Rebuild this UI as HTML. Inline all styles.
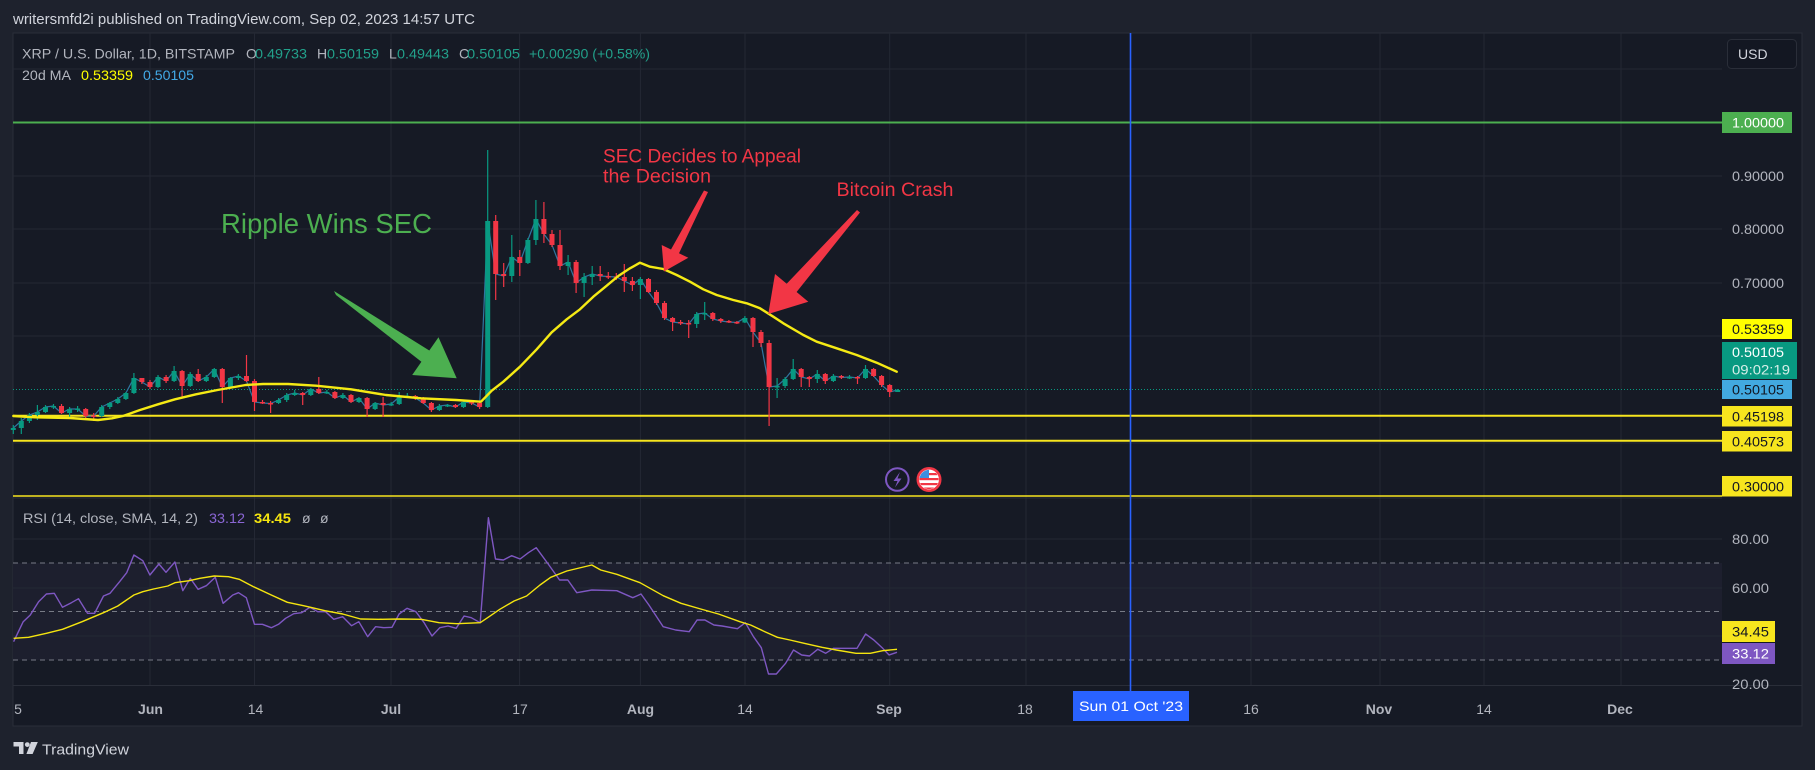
<!DOCTYPE html>
<html><head><meta charset="utf-8"><style>html,body{margin:0;padding:0;background:#1e222d;}svg{display:block;}</style></head>
<body>
<svg width="1815" height="770" viewBox="0 0 1815 770" xmlns="http://www.w3.org/2000/svg" font-family="'Liberation Sans', sans-serif">
<rect width="1815" height="770" fill="#1e222d"/>
<rect x="13" y="33" width="1789" height="693" fill="#161a25" stroke="#2a2e39" stroke-width="1"/>
<!-- RSI band -->
<rect x="13" y="563" width="1709" height="97" fill="#1d1f2e"/>
<!-- grid -->
<g stroke="#242834" stroke-width="1">
<path d="M13 69H1722M13 122.5H1722M13 176H1722M13 229H1722M13 283H1722M13 336H1722M13 443H1722M13 539H1722M13 588H1722M13 636H1722"/>
<path d="M150 33V685M254.5 33V685M391 33V685M519.6 33V685M640.4 33V685M745 33V685M889.7 33V685M1026 33V685M1251 33V685M1380 33V685M1484 33V685M1621 33V685"/>
</g>
<path d="M13 498H1722" stroke="#2a2e39" stroke-width="1"/>
<path d="M13 685.5H1802" stroke="#2a2e39" stroke-width="1"/>
<!-- RSI dashed -->
<g stroke="#787b86" stroke-width="1" stroke-dasharray="5 4">
<path d="M13 563H1722M13 611.5H1722M13 660H1722"/>
</g>
<!-- horizontal levels -->
<path d="M13 122.5H1722" stroke="#4caf50" stroke-width="2"/>
<path d="M13 389.5H1722" stroke="#089981" stroke-width="1" stroke-dasharray="1 2"/>
<path d="M13 415.7H1722M13 440.7H1722" stroke="#f7e51e" stroke-width="2"/>
<path d="M13 496H1722" stroke="#f7e51e" stroke-width="1.5"/>
<!-- close line -->
<polyline fill="none" stroke="#2f76a0" stroke-width="1.2" points="13.3,428 21.3,421 29.4,415 37.4,412 45.5,407 53.5,406 61.5,413 69.6,409 77.6,409 85.7,416 93.7,416 101.7,407 109.8,403 117.8,399 125.9,393 133.9,378 141.9,382 150,387 158,377 166.1,381 174.1,371 182.1,386 190.2,374 198.2,381 206.3,377 214.3,369 222.3,387 230.4,378 238.4,376 246.5,381 254.5,402 262.5,403 270.6,403.5 278.6,400 286.7,395 294.7,393 302.7,395 310.8,389 318.8,393 326.9,392 334.9,398 342.9,395 351,402 359,398 367.1,409 375.1,403 383.1,405 391.2,404 399.2,397 407.3,396 415.3,398 423.3,403 431.4,410 439.4,406 447.5,405 455.5,407 463.5,402 471.6,403 479.6,407 487.7,221 495.7,274 503.7,276 511.8,257 519.8,263 527.9,240 535.9,219 543.9,234 552,245 560,266 568.1,262 576.1,283 584.1,277 592.2,274 600.2,276 608.3,276.5 616.3,277 624.3,281 632.4,285 640.4,279 648.5,292 656.5,303 664.5,318 672.6,322 680.6,323 688.7,324 696.7,314 704.7,313 712.8,319 720.8,321 728.9,322 736.9,322.5 744.9,318 753,332 761,343 769.1,387 777.1,386 785.1,379 793.2,369 801.2,377 809.3,379 817.3,374 825.3,381 833.4,376 841.4,377.5 849.5,377 857.5,378 865.5,369 873.6,376 881.6,385 889.7,392 897.7,390"/>
<!-- wicks -->
<path stroke="#089981" stroke-width="1.2" fill="none" d="M13.3 425V434M21.3 418V434M29.4 413V423M37.4 405V420M45.5 405V413M53.5 404V409M69.6 407V417M77.6 406V412M101.7 405V417M109.8 402V409M117.8 397V404M125.9 392V400M133.9 373V394M158 375V388M174.1 366V382M190.2 372V387M206.3 375V382M214.3 368V378M230.4 377V388M238.4 374V380M278.6 398V404M286.7 393V402M294.7 390V396M310.8 388V396M326.9 390V394M342.9 393V399M359 397V403M375.1 402V410M391.2 402V406M399.2 392V405M407.3 393V398M439.4 404V411M447.5 404V407M463.5 400V408M487.7 150V408M511.8 235V282M527.9 238V264M535.9 200V245M568.1 255V275M584.1 273V297M592.2 266V285M640.4 277V299M696.7 312V328M704.7 302V320M744.9 316V323M777.1 378V398M785.1 377V388M793.2 359V380M817.3 370V383M833.4 374V382M849.5 375V379M865.5 365V379M897.7 389V392"/>
<path stroke="#f23645" stroke-width="1.2" fill="none" d="M61.5 404V414M85.7 408V418M93.7 413V421M141.9 378V384M150 380V389M166.1 375V383M182.1 370V397M198.2 369V382M222.3 368V403M246.5 355V382M254.5 379V411M262.5 400V404M270.6 401V413M302.7 392V405M318.8 377V394M334.9 391V399M351 394V403M367.1 397V417M383.1 397V417M415.3 395V400M423.3 397V404M431.4 402V412M455.5 404V408M471.6 401V405M479.6 402V409M495.7 215V300M503.7 263V287M519.8 250V276M543.9 202V243M552 230V247M560 230V270M576.1 260V293M600.2 266V281M608.3 272V279M616.3 273V280M624.3 264V292M632.4 277V291M648.5 278V293M656.5 290V305M664.5 301V320M672.6 317V331M680.6 320V325M688.7 320V338M712.8 312V321M720.8 318V323M728.9 320V323M736.9 321V324M753 317V347M761 330V347M769.1 340V426M801.2 368V387M809.3 376V387M825.3 373V384M841.4 375V379M857.5 376V384M873.6 368V377M881.6 375V387M889.7 384V397"/>
<!-- bodies -->
<path fill="#089981" d="M10.8 428h5v2h-5zM18.8 421h5v7h-5zM26.9 415h5v6h-5zM34.9 412h5v3h-5zM43 407h5v5h-5zM51 406h5v1.5h-5zM67.1 409h5v4h-5zM75.1 408.5h5v1.5h-5zM99.2 407h5v9h-5zM107.3 403h5v4h-5zM115.3 399h5v4h-5zM123.4 393h5v6h-5zM131.4 378h5v15h-5zM155.5 377h5v10h-5zM171.6 371h5v10h-5zM187.7 374h5v12h-5zM203.8 377h5v4h-5zM211.8 369h5v8h-5zM227.9 378h5v9h-5zM235.9 376h5v2h-5zM276.1 400h5v3h-5zM284.2 395h5v5h-5zM292.2 393h5v2h-5zM308.3 389h5v6h-5zM324.4 392h5v1.5h-5zM340.4 395h5v3h-5zM356.5 398h5v4h-5zM372.6 403h5v6h-5zM388.7 404h5v1.5h-5zM396.7 397h5v7h-5zM404.8 396h5v1.5h-5zM436.9 406h5v4h-5zM445 405h5v1.5h-5zM461 402h5v5h-5zM485.2 221h5v186h-5zM509.3 257h5v19h-5zM525.4 240h5v23h-5zM533.4 219h5v21h-5zM565.6 262h5v4h-5zM581.6 277h5v6h-5zM589.7 274h5v3h-5zM637.9 279h5v6h-5zM694.2 314h5v10h-5zM702.2 313h5v1.5h-5zM742.4 318h5v4.5h-5zM774.6 386h5v1.5h-5zM782.6 379h5v7h-5zM790.7 369h5v10h-5zM814.8 374h5v5h-5zM830.9 376h5v5h-5zM847 377h5v1.5h-5zM863 369h5v9h-5zM895.2 390h5v2h-5z"/>
<path fill="#f23645" d="M59 406h5v7h-5zM83.2 409h5v7h-5zM91.2 415.5h5v1.5h-5zM139.4 378h5v4h-5zM147.5 382h5v5h-5zM163.6 377h5v4h-5zM179.6 371h5v15h-5zM195.7 374h5v7h-5zM219.8 369h5v18h-5zM244 376h5v5h-5zM252 381h5v21h-5zM260 402h5v1.5h-5zM268.1 403h5v1.5h-5zM300.2 393h5v2h-5zM316.3 389h5v4h-5zM332.4 392h5v6h-5zM348.5 395h5v7h-5zM364.6 398h5v11h-5zM380.6 403h5v2h-5zM412.8 396h5v2h-5zM420.8 398h5v5h-5zM428.9 403h5v7h-5zM453 405h5v2h-5zM469.1 402h5v1.5h-5zM477.1 403h5v4h-5zM493.2 221h5v53h-5zM501.2 274h5v2h-5zM517.3 257h5v6h-5zM541.4 219h5v15h-5zM549.5 234h5v11h-5zM557.5 245h5v21h-5zM573.6 262h5v21h-5zM597.7 274h5v2h-5zM605.8 276h5v1.5h-5zM613.8 276.5h5v1.5h-5zM621.8 277h5v4h-5zM629.9 281h5v4h-5zM646 279h5v13h-5zM654 292h5v11h-5zM662 303h5v15h-5zM670.1 318h5v4h-5zM678.1 322h5v1.5h-5zM686.2 323h5v1.5h-5zM710.3 313h5v6h-5zM718.3 319h5v2h-5zM726.4 321h5v1.5h-5zM734.4 322h5v1.5h-5zM750.5 318h5v14h-5zM758.5 332h5v11h-5zM766.6 343h5v44h-5zM798.7 369h5v8h-5zM806.8 377h5v2h-5zM822.8 374h5v7h-5zM838.9 376h5v1.5h-5zM855 377h5v1.5h-5zM871.1 369h5v7h-5zM879.1 376h5v9h-5zM887.2 385h5v7h-5z"/>
<!-- MA -->
<polyline fill="none" stroke="#f5ea14" stroke-width="2.4" stroke-linejoin="round" stroke-linecap="round" points="13.3,416 35,417.3 70,418 98,420 112,418.3 123,416 140,410 158,404.3 175,399.3 196,394.3 217.5,390 245.6,385 263,384 288,384 316,385.7 351,389.3 386,395 421,398.3 456,400 481,401.7 491.7,390.7 503.3,381.7 520,366.7 536.7,349.3 551.7,332.3 566.7,319.3 580,309.3 593.3,296.7 606.7,285.7 618.3,276 630,268.3 640,262.7 650,266.7 663.3,269 676.7,275 690,281.7 703.3,289.3 716.7,295 733.3,300 746.7,303.3 760,308.3 773.3,316.7 783.3,323.3 803.3,335 816.7,341.7 836.7,348.3 856.7,355 876.7,362.7 896.7,371.7"/>
<!-- annotations -->
<text x="221" y="233" font-size="28" fill="#4caf50" textLength="211" lengthAdjust="spacingAndGlyphs">Ripple Wins SEC</text>
<polygon fill="#4caf50" points="334,291 429.3,350.5 438.5,337.3 456.7,378.3 412.2,375 421.4,361.8 336,295"/>
<text x="603" y="162.5" font-size="19" fill="#f23645" textLength="198" lengthAdjust="spacingAndGlyphs">SEC Decides to Appeal</text>
<text x="603" y="182.5" font-size="19" fill="#f23645" textLength="108" lengthAdjust="spacingAndGlyphs">the Decision</text>
<polygon fill="#f23645" points="704,190.5 671,249.5 661.7,245 664,271.5 688.3,257.7 679,253.3 708,192"/>
<text x="836.5" y="196" font-size="19" fill="#f23645" textLength="117" lengthAdjust="spacingAndGlyphs">Bitcoin Crash</text>
<polygon fill="#f23645" points="857,210 786.7,283.7 775,274 768.3,314 808.3,301.7 796.6,292 860,212.5"/>
<!-- icons -->
<circle cx="897.3" cy="479.5" r="11.3" fill="#161a25" stroke="#7e57c2" stroke-width="2"/>
<path d="M900 472 L893.5 481 H897.5 L895 487.5 L901.5 478.5 H897.5 Z" fill="#7e57c2"/>
<circle cx="929" cy="479.5" r="11.2" fill="#ffffff" stroke="#f23645" stroke-width="2.6"/>
<clipPath id="fc"><circle cx="929" cy="479.5" r="9.6"/></clipPath>
<g clip-path="url(#fc)">
<rect x="918" y="469" width="22" height="22" fill="#fff"/>
<rect x="918" y="473" width="22" height="2.2" fill="#f23645"/>
<rect x="918" y="478" width="22" height="2.2" fill="#f23645"/>
<rect x="918" y="483" width="22" height="2.2" fill="#f23645"/>
<rect x="918" y="487.5" width="22" height="3" fill="#f23645"/>
<rect x="918" y="469" width="11" height="9" fill="#3d8ee0"/>
</g>
<!-- RSI -->
<polyline fill="none" stroke="#7e57c2" stroke-width="1.4" stroke-linejoin="round" points="13.6,641.7 23.2,621.7 30.3,615 38.6,601.7 46.4,594 54.3,593.3 62.5,607.3 71.4,602.7 78.5,598.7 87.5,613.3 94.6,613.3 103.5,596 110,593.3 119.6,581.7 126.7,572.7 133.9,555 142.8,560.7 149.9,575 158.9,564 166,572.3 174.9,562 182.8,590.7 190.3,578.3 198.1,589.3 206.3,585.7 215.3,577.3 223.1,603.3 232.8,595 238.5,592.7 246.3,597.7 254.5,624.3 262.4,624.3 271.3,627.7 278.5,624.3 285.6,618.3 293.8,613.7 301.7,612.7 309.9,607.3 317.7,611.7 325.6,611.7 333.8,619.3 342.7,616.7 351.6,625.7 358.8,621.7 367.7,636.7 375.6,626.7 383.8,627.7 392,627.3 399.1,614 407,608.3 415.9,611.7 424.1,622.7 432,636 439.8,627.7 448,626 456.2,628.3 464.1,616 471.2,617.7 480.2,622.7 488.4,517.7 495.5,559 503.4,560 511.6,555.7 520.1,559 528.4,552.7 536.2,547.7 548.9,565 559.6,580 567.8,580 576.8,592.7 591.8,590 616.8,590.7 632.8,597.7 641,594 648.9,605 663.2,626.7 675.7,630 689.2,631.7 697.1,620 704.9,620 713.9,625 722.1,626 737.4,628.7 745.3,622.7 753.5,636.7 761.3,647.7 768.5,674 776.3,674 785.6,663.3 793.5,650 801.7,655 809.5,656 817.7,649.3 825.6,653.3 833.5,648.3 857,648.3 865.6,634 873.8,640 882.7,648.3 889.1,655 897,652.3"/>
<polyline fill="none" stroke="#f5e50f" stroke-width="1.4" stroke-linejoin="round" points="13.6,638.3 28.6,637.3 46.4,633.3 62.5,629.3 82.1,621.7 103.5,612.7 117.8,606 133.9,595 142.8,591.7 153.5,589 167.8,586 174.9,582.7 189.2,580.7 199.9,578.3 214.2,576 228.5,576.7 239.2,579.3 253.5,586.7 271.3,595 287.4,602.3 303.5,605.7 310.6,607.3 324.9,610.7 342.7,614 360.6,619 378.4,619.3 399.8,619 421.3,619.3 439.1,622.7 457,623.7 480.2,622.7 489.1,616.7 499.8,609.3 514.1,601 526.6,596 540,585 550.7,577.3 566.8,571 591.8,565 600.7,570 616.8,574.3 640,582.7 663.2,595.7 681,603.3 700.7,609 718.5,614 739.9,621.7 750.6,625 764.9,631.7 777.4,637.3 789.9,640 804.2,643.3 822,647.3 836.3,650 856,653.3 870.2,653.3 882.7,650.7 897,649.3"/>
<!-- blue vertical line -->
<path d="M1130.5 33V691" stroke="#2962ff" stroke-width="1.6"/>
<!-- header -->
<text x="13" y="24" font-size="15" fill="#d1d4dc" textLength="462" lengthAdjust="spacingAndGlyphs">writersmfd2i published on TradingView.com, Sep 02, 2023 14:57 UTC</text>
<!-- legend -->
<g font-size="14">
<text x="22" y="58.5" fill="#b2b5be" textLength="213" lengthAdjust="spacingAndGlyphs">XRP / U.S. Dollar, 1D, BITSTAMP</text>
<text x="246" y="58.5" fill="#b2b5be">O</text>
<text x="255" y="58.5" fill="#22a08a" textLength="52" lengthAdjust="spacingAndGlyphs">0.49733</text>
<text x="317" y="58.5" fill="#b2b5be">H</text>
<text x="327" y="58.5" fill="#22a08a" textLength="52" lengthAdjust="spacingAndGlyphs">0.50159</text>
<text x="389" y="58.5" fill="#b2b5be">L</text>
<text x="397" y="58.5" fill="#22a08a" textLength="52" lengthAdjust="spacingAndGlyphs">0.49443</text>
<text x="459" y="58.5" fill="#b2b5be">C</text>
<text x="467" y="58.5" fill="#22a08a" textLength="53" lengthAdjust="spacingAndGlyphs">0.50105</text>
<text x="529" y="58.5" fill="#22a08a" textLength="121" lengthAdjust="spacingAndGlyphs">+0.00290 (+0.58%)</text>
<text x="22" y="80" fill="#b2b5be" textLength="49" lengthAdjust="spacingAndGlyphs">20d MA</text>
<text x="81" y="80" fill="#ffff00" textLength="52" lengthAdjust="spacingAndGlyphs">0.53359</text>
<text x="143" y="80" fill="#42a9e6" textLength="51" lengthAdjust="spacingAndGlyphs">0.50105</text>
<text x="23" y="523" fill="#b2b5be" textLength="175" lengthAdjust="spacingAndGlyphs">RSI (14, close, SMA, 14, 2)</text>
<text x="209" y="523" fill="#8a66d4" textLength="36" lengthAdjust="spacingAndGlyphs">33.12</text>
<text x="254" y="523" fill="#f5e50f" font-weight="bold" textLength="37" lengthAdjust="spacingAndGlyphs">34.45</text>
<text x="302" y="523" fill="#b2b5be">ø</text>
<text x="320" y="523" fill="#b2b5be">ø</text>
</g>
<!-- USD button -->
<rect x="1727.5" y="39.5" width="69" height="29" rx="4" fill="#131722" stroke="#2a2e39"/>
<text x="1738" y="59" font-size="14" fill="#d1d4dc">USD</text>
<!-- price axis -->
<g font-size="14">
<rect x="1722" y="112" width="70" height="21" fill="#4caf50"/>
<text x="1732" y="127.5" fill="#ffffff" textLength="52" lengthAdjust="spacingAndGlyphs">1.00000</text>
<text x="1732" y="181" fill="#b2b5be" textLength="52" lengthAdjust="spacingAndGlyphs">0.90000</text>
<text x="1732" y="234" fill="#b2b5be" textLength="52" lengthAdjust="spacingAndGlyphs">0.80000</text>
<text x="1732" y="288" fill="#b2b5be" textLength="52" lengthAdjust="spacingAndGlyphs">0.70000</text>
<rect x="1722" y="319" width="70" height="20" fill="#ffff00"/>
<text x="1732" y="334" fill="#131722" textLength="52" lengthAdjust="spacingAndGlyphs">0.53359</text>
<rect x="1722" y="342" width="75" height="37" fill="#089981"/>
<text x="1732" y="357" fill="#ffffff" textLength="52" lengthAdjust="spacingAndGlyphs">0.50105</text>
<text x="1732" y="374.5" fill="#d5eee8" textLength="58" lengthAdjust="spacingAndGlyphs">09:02:19</text>
<rect x="1722" y="380" width="70" height="19" fill="#42a9e0"/>
<text x="1732" y="394.5" fill="#131722" textLength="52" lengthAdjust="spacingAndGlyphs">0.50105</text>
<rect x="1722" y="406" width="70" height="20.5" fill="#f7e51e"/>
<text x="1732" y="421.5" fill="#131722" textLength="52" lengthAdjust="spacingAndGlyphs">0.45198</text>
<rect x="1722" y="431" width="70" height="20.5" fill="#f7e51e"/>
<text x="1732" y="446.5" fill="#131722" textLength="52" lengthAdjust="spacingAndGlyphs">0.40573</text>
<rect x="1722" y="476" width="70" height="20.5" fill="#f7e51e"/>
<text x="1732" y="491.5" fill="#131722" textLength="52" lengthAdjust="spacingAndGlyphs">0.30000</text>
<!-- RSI axis -->
<text x="1732" y="544" fill="#b2b5be" textLength="37" lengthAdjust="spacingAndGlyphs">80.00</text>
<text x="1732" y="593" fill="#b2b5be" textLength="37" lengthAdjust="spacingAndGlyphs">60.00</text>
<rect x="1722" y="621" width="53" height="21" fill="#f7e51e"/>
<text x="1732" y="636.5" fill="#131722" textLength="37" lengthAdjust="spacingAndGlyphs">34.45</text>
<rect x="1722" y="643" width="53" height="21" fill="#7e57c2"/>
<text x="1732" y="658.5" fill="#ffffff" textLength="37" lengthAdjust="spacingAndGlyphs">33.12</text>
<text x="1732" y="689" fill="#b2b5be" textLength="37" lengthAdjust="spacingAndGlyphs">20.00</text>
</g>
<!-- time axis -->
<g font-size="14" fill="#b2b5be" text-anchor="middle">
<text x="18" y="714">5</text>
<text x="150.5" y="714" font-weight="bold">Jun</text>
<text x="255.5" y="714">14</text>
<text x="391" y="714" font-weight="bold">Jul</text>
<text x="520" y="714">17</text>
<text x="640.5" y="714" font-weight="bold">Aug</text>
<text x="745" y="714">14</text>
<text x="889" y="714" font-weight="bold">Sep</text>
<text x="1025" y="714">18</text>
<text x="1251" y="714">16</text>
<text x="1379" y="714" font-weight="bold">Nov</text>
<text x="1484" y="714">14</text>
<text x="1620" y="714" font-weight="bold">Dec</text>
</g>
<rect x="1073" y="691" width="116" height="30" fill="#2962ff"/>
<text x="1131" y="711" font-size="14" fill="#ffffff" text-anchor="middle" textLength="104" lengthAdjust="spacingAndGlyphs">Sun 01 Oct '23</text>
<!-- footer logo -->
<g fill="#d1d4dc">
<path d="M13.5 742h10v12h-4.5v-7.5h-5.5z"/>
<circle cx="27.3" cy="744.6" r="2.4"/>
<path d="M31 742h6.8l-5.2 12h-6.2z"/>
</g>
<text x="42" y="754.5" font-size="15" fill="#d1d4dc" textLength="87" lengthAdjust="spacingAndGlyphs">TradingView</text>
</svg>
</body></html>
